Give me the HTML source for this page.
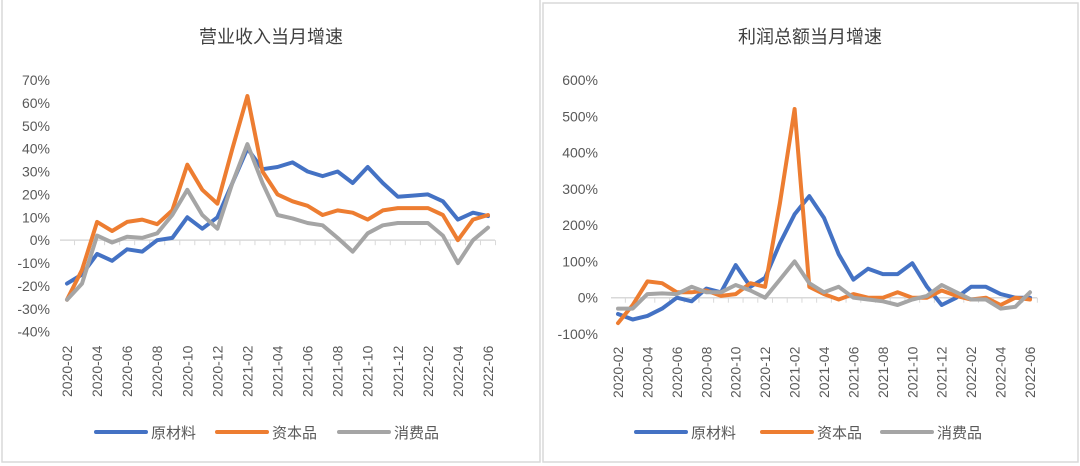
<!DOCTYPE html>
<html><head><meta charset="utf-8"><style>
body{margin:0;background:#fff;width:1080px;height:466px;overflow:hidden}
svg{display:block;font-family:"Liberation Sans","Noto Sans CJK SC",sans-serif}
</style></head><body>
<svg id="s" width="1080" height="466">
<rect x="2" y="-2" width="538" height="464" fill="#fff" stroke="#d9d9d9" stroke-width="1.5"/>
<rect x="543" y="3" width="535" height="459" fill="#fff" stroke="#d9d9d9" stroke-width="1.5"/>
<text x="271" y="43" font-size="18" fill="#404040" text-anchor="middle">营业收入当月增速</text>
<text x="810" y="43" font-size="18" fill="#404040" text-anchor="middle">利润总额当月增速</text>
</svg>
<script>
const months=["2020-02","2020-03","2020-04","2020-05","2020-06","2020-07","2020-08","2020-09","2020-10","2020-11","2020-12","2021-01","2021-02","2021-03","2021-04","2021-05","2021-06","2021-07","2021-08","2021-09","2021-10","2021-11","2021-12","2022-01","2022-02","2022-03","2022-04","2022-05","2022-06"];
const seriesNames=["原材料","资本品","消费品"];
const colors=["#4472c4","#ed7d31","#a5a5a5"];
const revRaw=[-19,-15,-6,-9,-4,-5,0,1,10,5,10,25,40,31,32,34,30,28,30,25,32,25,19,19.5,20,17,9,12,10.5];
const revCap=[-26,-13,8,4,8,9,7,13,33,22,16,40,63,30,20,17,15,11,13,12,9,13,14,14,14,11,0,9,11];
const revCon=[-26,-19,2,-1,1.5,1,3,11,22,11,5,25,42,25,11,9.5,7.5,6.5,1,-5,3,6.5,7.5,7.5,7.5,2,-10,0,5.5];
const profRaw=[-45,-60,-50,-30,0,-10,25,15,90,30,55,150,230,280,220,120,50,80,65,65,95,30,-20,0,30,30,10,0,0];
const profCap=[-70,-20,45,40,15,15,20,5,10,40,30,260,520,30,10,-5,10,0,0,15,0,0,20,5,-5,0,-20,0,-5];
const profCon=[-30,-30,10,12,10,30,15,15,35,20,0,50,100,40,15,30,0,-5,-10,-20,-5,5,35,15,-5,-5,-30,-25,15];
const leftTicks=[70,60,50,40,30,20,10,0,-10,-20,-30,-40];
const rightTicks=[600,500,400,300,200,100,0,-100];
const svg=document.getElementById('s');
const NS="http://www.w3.org/2000/svg";
function mk(t,a){const e=document.createElementNS(NS,t);for(const k in a)e.setAttribute(k,a[k]);svg.appendChild(e);return e;}
function chart(cfg){
  const sx=i=>cfg.x0+(cfg.x1-cfg.x0)*i/(months.length-1);
  const sy=v=>cfg.yTop+(cfg.yBot-cfg.yTop)*(cfg.vTop-v)/(cfg.vTop-cfg.vBot);
  cfg.ticks.forEach(t=>{
    const e=mk('text',{x:cfg.lblX,y:sy(t)+5,'font-size':14,fill:'#595959','text-anchor':'end'});
    e.textContent=t+'%';
    
    
  });
  const ax=mk('line',{x1:cfg.x0-7,x2:cfg.x1+7,y1:sy(0),y2:sy(0),stroke:'#d9d9d9','stroke-width':1.5});
  
  
  months.forEach((m,i)=>{
    const tk=mk('line',{x1:sx(i)+ (cfg.x1-cfg.x0)/56,x2:sx(i)+(cfg.x1-cfg.x0)/56,y1:sy(0),y2:sy(0)+5,stroke:'#d9d9d9'});
    
    
    if(i%2==0){
      const e=mk('text',{x:0,y:0,'font-size':14,fill:'#595959','text-anchor':'start',transform:`translate(${sx(i)+5},${cfg.lblY}) rotate(-90)`});
      e.textContent=m;
      
      
    }
  });
  cfg.data.forEach((d,k)=>{
    const pts=d.map((v,i)=>sx(i).toFixed(1)+','+sy(v).toFixed(1)).join(' ');
    const pl=mk('polyline',{points:pts,fill:'none',stroke:colors[k],'stroke-width':4,'stroke-linejoin':'round','stroke-linecap':'round'});
    
    
  });
  cfg.leg.forEach((lx,k)=>{
    const l=mk('line',{x1:lx,x2:lx+50,y1:432,y2:432,stroke:colors[k],'stroke-width':4,'stroke-linecap':'round'});
    
    
    const t=mk('text',{x:lx+55,y:438,'font-size':15,fill:'#595959'});
    t.textContent=seriesNames[k];
    
    
  });
}
chart({p:'left',x0:67,x1:488,yTop:80,yBot:331.7,vTop:70,vBot:-40,ticks:leftTicks,lblX:50,lblY:397,data:[revRaw,revCap,revCon],leg:[96,217,339]});
chart({p:'right',x0:618,x1:1030,yTop:80,yBot:334,vTop:600,vBot:-100,ticks:rightTicks,lblX:598,lblY:398,data:[profRaw,profCap,profCon],leg:[636,762,882]});
</script>
</body></html>
